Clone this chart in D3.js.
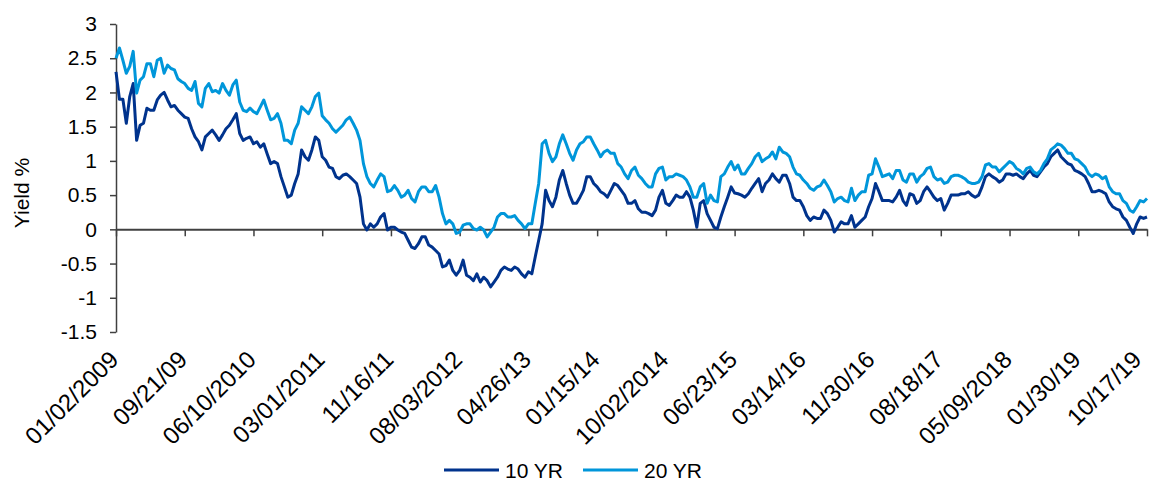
<!DOCTYPE html>
<html>
<head>
<meta charset="utf-8">
<script src="https://cdn.jsdelivr.net/npm/d3@7"></script>
<style>
  body { margin: 0; background: #fff; }
  svg { display: block; font-family: "Liberation Sans", Arial, sans-serif; }
</style>
</head>
<body>
<div id="chart"></div>
<script>
// tick labels on the category axis (one every 20 samples)
const tickLabels = ["01/02/2009", "09/21/09", "06/10/2010", "03/01/2011", "11/16/11", "08/03/2012",
  "04/26/13", "01/15/14", "10/02/2014", "06/23/15", "03/14/16", "11/30/16", "08/18/17",
  "05/09/2018", "01/30/19", "10/17/19"];

// yields, evenly spaced samples
const tenYr = [
  2.3, 1.9, 1.9, 1.55, 1.94, 2.13, 1.3, 1.52, 1.55, 1.77, 1.74, 1.74, 1.89, 1.96, 2.0, 1.89, 1.79, 1.81, 1.74, 1.69, 1.64,
  1.62, 1.47, 1.35, 1.28, 1.16, 1.35, 1.4, 1.45, 1.38, 1.30, 1.38, 1.47, 1.52, 1.6, 1.69, 1.4, 1.3, 1.33, 1.35, 1.25,
  1.28, 1.2, 1.25, 1.1, 0.96, 0.99, 0.96, 0.77, 0.62, 0.47, 0.5, 0.67, 0.81, 1.16, 1.06, 1.01, 1.16, 1.35, 1.3, 1.06,
  1.01, 0.91, 0.89, 0.77, 0.74, 0.79, 0.81, 0.77, 0.72, 0.67, 0.47, 0.08, -0.01, 0.08, 0.03, 0.08, 0.18, 0.23, -0.01, 0.03,
  0.03, -0.01, -0.04, -0.06, -0.16, -0.26, -0.28, -0.21, -0.11, -0.11, -0.23, -0.26, -0.31, -0.36, -0.55, -0.53, -0.45, -0.6, -0.67, -0.6,
  -0.45, -0.67, -0.7, -0.75, -0.65, -0.77, -0.7, -0.75, -0.84, -0.77, -0.7, -0.6, -0.55, -0.58, -0.6, -0.55, -0.58, -0.65, -0.7, -0.62,
  -0.65, -0.4, -0.16, 0.08, 0.57, 0.42, 0.33, 0.47, 0.72, 0.86, 0.67, 0.5, 0.38, 0.38, 0.47, 0.57, 0.77, 0.77, 0.67, 0.62,
  0.55, 0.52, 0.47, 0.57, 0.67, 0.64, 0.57, 0.5, 0.38, 0.38, 0.42, 0.3, 0.25, 0.25, 0.23, 0.2, 0.28, 0.47, 0.57, 0.38,
  0.35, 0.42, 0.5, 0.47, 0.47, 0.55, 0.47, 0.28, 0.03, 0.38, 0.42, 0.23, 0.13, 0.03, 0.01, 0.18, 0.33, 0.47, 0.62, 0.53,
  0.52, 0.5, 0.47, 0.52, 0.6, 0.67, 0.74, 0.55, 0.67, 0.72, 0.81, 0.74, 0.69, 0.79, 0.79, 0.67, 0.47, 0.42, 0.42, 0.33,
  0.2, 0.13, 0.18, 0.16, 0.16, 0.28, 0.23, 0.13, -0.04, 0.03, 0.11, 0.08, 0.08, 0.2, 0.03, 0.08, 0.13, 0.18, 0.33, 0.45,
  0.67, 0.55, 0.42, 0.42, 0.42, 0.4, 0.47, 0.57, 0.42, 0.35, 0.52, 0.5, 0.38, 0.42, 0.55, 0.62, 0.55, 0.47, 0.42, 0.45,
  0.28, 0.38, 0.5, 0.5, 0.5, 0.52, 0.52, 0.55, 0.5, 0.47, 0.5, 0.62, 0.77, 0.81, 0.77, 0.74, 0.69, 0.72, 0.81, 0.81,
  0.79, 0.81, 0.77, 0.74, 0.81, 0.86, 0.79, 0.77, 0.84, 0.91, 0.96, 1.06, 1.11, 1.16, 1.06, 1.01, 0.96, 0.94, 0.86, 0.84,
  0.81, 0.77, 0.67, 0.55, 0.55, 0.57, 0.55, 0.52, 0.4, 0.33, 0.3, 0.28, 0.18, 0.13, 0.03, -0.06, 0.08, 0.18, 0.16, 0.18
];
const twentyYr = [
  2.5, 2.65, 2.47, 2.28, 2.38, 2.6, 1.99, 2.18, 2.23, 2.42, 2.42, 2.23, 2.47, 2.5, 2.28, 2.4, 2.35, 2.33, 2.2, 2.16, 2.13,
  2.06, 2.03, 2.16, 1.84, 1.79, 2.06, 2.13, 2.01, 2.03, 1.99, 2.13, 2.03, 1.96, 2.11, 2.18, 1.86, 1.74, 1.72, 1.77, 1.72,
  1.69, 1.79, 1.89, 1.74, 1.6, 1.62, 1.69, 1.55, 1.3, 1.3, 1.25, 1.45, 1.55, 1.79, 1.74, 1.69, 1.79, 1.94, 1.99, 1.66,
  1.6, 1.55, 1.47, 1.42, 1.47, 1.52, 1.6, 1.64, 1.55, 1.45, 1.3, 0.96, 0.77, 0.67, 0.62, 0.72, 0.81, 0.77, 0.55, 0.57,
  0.64, 0.57, 0.47, 0.5, 0.57, 0.45, 0.4, 0.55, 0.62, 0.62, 0.55, 0.55, 0.64, 0.47, 0.23, 0.08, 0.13, 0.08, -0.06, -0.04,
  0.06, 0.08, 0.08, 0.01, -0.01, 0.03, -0.01, -0.11, -0.04, 0.03, 0.18, 0.23, 0.23, 0.18, 0.18, 0.2, 0.13, 0.08, 0.01, 0.08,
  0.08, 0.38, 0.67, 1.25, 1.3, 1.11, 0.99, 1.06, 1.25, 1.38, 1.25, 1.11, 1.01, 1.16, 1.25, 1.28, 1.35, 1.35, 1.25, 1.16,
  1.06, 1.13, 1.16, 1.11, 1.11, 0.96, 0.91, 0.81, 0.74, 0.86, 0.91, 0.79, 0.74, 0.67, 0.62, 0.62, 0.81, 0.89, 0.91, 0.72,
  0.77, 0.77, 0.81, 0.79, 0.77, 0.72, 0.62, 0.47, 0.47, 0.62, 0.67, 0.38, 0.5, 0.42, 0.4, 0.77, 0.81, 0.91, 0.99, 0.87,
  0.94, 0.81, 0.81, 0.89, 0.96, 1.06, 1.11, 0.99, 1.03, 1.06, 1.13, 1.03, 1.2, 1.13, 1.11, 1.06, 0.91, 0.81, 0.79, 0.72,
  0.67, 0.6, 0.57, 0.62, 0.64, 0.72, 0.64, 0.55, 0.4, 0.45, 0.47, 0.42, 0.4, 0.6, 0.42, 0.5, 0.55, 0.55, 0.79, 0.81,
  1.03, 0.91, 0.77, 0.79, 0.81, 0.74, 0.86, 0.86, 0.72, 0.69, 0.81, 0.81, 0.69, 0.77, 0.81, 0.89, 0.91, 0.77, 0.72, 0.74,
  0.67, 0.69, 0.77, 0.79, 0.79, 0.77, 0.74, 0.69, 0.67, 0.67, 0.69, 0.77, 0.94, 0.96, 0.91, 0.91, 0.84, 0.89, 0.94, 0.99,
  0.96, 0.89, 0.86, 0.81, 0.89, 0.91, 0.84, 0.81, 0.86, 0.96, 1.03, 1.16, 1.2, 1.25, 1.23, 1.18, 1.11, 1.11, 1.03, 1.01,
  0.96, 0.91, 0.81, 0.77, 0.81, 0.79, 0.74, 0.77, 0.62, 0.55, 0.52, 0.52, 0.42, 0.38, 0.28, 0.25, 0.33, 0.42, 0.4, 0.45
];
const yTicks = [-1.5, -1, -0.5, 0, 0.5, 1, 1.5, 2, 2.5, 3];

const series = [
  { name: "10 YR", values: tenYr, color: "#00338D" },
  { name: "20 YR", values: twentyYr, color: "#0096DA" }
];

const width = 1149, height = 480;
const svg = d3.select("#chart").append("svg")
  .attr("width", width)
  .attr("height", height);

const x = d3.scaleLinear().domain([0, tenYr.length - 1]).range([116, 1147]);
const y = d3.scaleLinear().domain([-1.5, 3]).range([332, 24]);

const axisColor = "#404040";

// y axis
const yAxis = svg.append("g")
  .attr("transform", `translate(${x(0)},0)`)
  .call(d3.axisLeft(y).tickValues(yTicks).tickSize(6).tickSizeOuter(0).tickPadding(13));
yAxis.select(".domain").attr("stroke", axisColor).attr("stroke-width", 1.5);
yAxis.selectAll(".tick line").attr("stroke", axisColor).attr("stroke-width", 1.5);
yAxis.selectAll(".tick text")
  .attr("fill", "#000")
  .style("font-size", "21px")
  .text(d => d < 0 ? "-" + Math.abs(d) : d);

// x axis through zero, labels at the bottom
const tickIdx = tickLabels.map((d, i) => i * 20);
const xAxis = svg.append("g")
  .attr("transform", `translate(0,${y(0)})`)
  .call(d3.axisBottom(x).tickValues(tickIdx).tickSize(7).tickSizeOuter(0).tickFormat(""));
xAxis.select(".domain").attr("stroke", axisColor).attr("stroke-width", 2);
xAxis.selectAll(".tick line").attr("stroke", axisColor).attr("stroke-width", 1.5);

svg.append("g").selectAll("text")
  .data(tickLabels)
  .join("text")
  .attr("transform", (d, i) => `translate(${Math.min(x(tickIdx[i]) + 4, width - 6)},361) rotate(-45)`)
  .attr("text-anchor", "end")
  .style("font-size", "24px")
  .attr("fill", "#000")
  .text(d => d);

// y axis title
svg.append("text")
  .attr("transform", "translate(29,193) rotate(-90)")
  .attr("text-anchor", "middle")
  .style("font-size", "21px")
  .text("Yield %");

// lines
const line = d3.line()
  .x((d, i) => x(i))
  .y(d => y(d));

svg.append("g").selectAll("path")
  .data(series)
  .join("path")
  .attr("fill", "none")
  .attr("stroke", d => d.color)
  .attr("stroke-width", 3)
  .attr("stroke-linejoin", "round")
  .attr("d", d => line(d.values));

// legend
const legendX = [444, 583];
const legend = svg.append("g").selectAll("g")
  .data(series)
  .join("g")
  .attr("transform", (d, i) => `translate(${legendX[i]},470)`);
legend.append("line")
  .attr("x1", 0).attr("x2", 55)
  .attr("stroke", d => d.color)
  .attr("stroke-width", 3);
legend.append("text")
  .attr("x", 61)
  .attr("y", 7.5)
  .style("font-size", "21px")
  .text(d => d.name);
</script>
</body>
</html>
